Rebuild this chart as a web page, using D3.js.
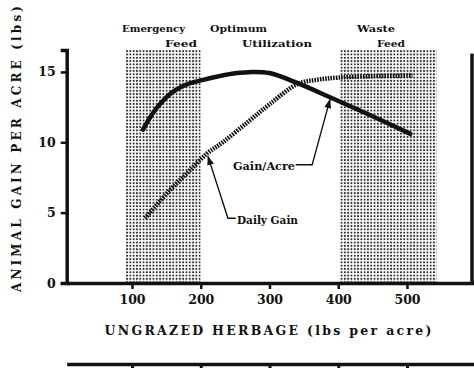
<!DOCTYPE html>
<html>
<head>
    <script src="https://d3js.org/d3.v7.min.js"></script>
    <style>
        body { margin: 0; background: white; }
        text { font-family: "DejaVu Serif", serif; font-weight: bold; fill: #111; }
    </style>
</head>
<body>
    <div id="chart"></div>
    <script>
        // values
        var herbage = [119, 155, 180, 209, 232, 270, 300, 341, 370, 400, 450, 508];
        var dailyGain = [4.6, 6.6, 7.8, 9.2, 10.0, 11.5, 12.7, 14.15, 14.45, 14.6, 14.7, 14.75];
        var herbageAcre = [116, 126, 136, 150, 160, 170, 180, 190, 200, 225, 250, 275, 300, 341, 388, 450, 505];
        var gainAcre = [10.9, 11.75, 12.45, 13.2, 13.6, 13.9, 14.12, 14.28, 14.4, 14.68, 14.9, 15.0, 14.92, 14.2, 13.2, 11.85, 10.6];
        var xTicks = [100, 200, 300, 400, 500];
        var yTicks = [0, 5, 10, 15];
        var zoneNames = [["Emergency", "Feed"], ["Optimum", "Utilization"], ["Waste", "Feed"]];
        var zoneStart = [91, 200, 402];
        var zoneEnd = [200, 402, 543];
        var zoneShaded = [true, false, true];

        var width = 474, height = 375;

        var svg = d3.select("#chart")
            .append("svg")
                .attr("width", width)
                .attr("height", height);

        var x = d3.scaleLinear().domain([5, 600]).range([66.7, 475.75]);
        var y = d3.scaleLinear().domain([0, 16.56]).range([283, 50]);

        // stipple pattern for the feed zones
        var pat = svg.append("defs").append("pattern")
            .attr("id", "dots")
            .attr("patternUnits", "userSpaceOnUse")
            .attr("width", 3.3)
            .attr("height", 3.3);
        pat.append("circle")
            .attr("cx", 1.65).attr("cy", 1.65).attr("r", 1.05)
            .attr("fill", "#2a2a2a");

        svg.select("defs").append("marker")
            .attr("id", "arrow")
            .attr("viewBox", "0 0 10 10")
            .attr("refX", 9).attr("refY", 5)
            .attr("markerWidth", 7).attr("markerHeight", 7)
            .attr("orient", "auto")
            .append("path")
                .attr("d", "M0,1.5 L10,5 L0,8.5 Z")
                .attr("fill", "#111");

        zoneStart.forEach(function(s, i) {
            if (!zoneShaded[i]) return;
            svg.append("rect")
                .attr("x", x(s))
                .attr("y", y(16.56))
                .attr("width", x(zoneEnd[i]) - x(s))
                .attr("height", y(0) - y(16.56))
                .attr("fill", "url(#dots)");
        });

        // zone headings
        var headX = [[122, 165], [210, 242], [357, 377]];
        var headW = [[63, 32], [57, 70], [38, 28]];
        zoneNames.forEach(function(n, i) {
            n.forEach(function(t, j) {
                svg.append("text")
                    .attr("x", headX[i][j])
                    .attr("y", 32 + j * 15)
                    .attr("textLength", headW[i][j])
                    .attr("lengthAdjust", "spacingAndGlyphs")
                    .style("font-size", "10px")
                    .text(t);
            });
        });

        // y axis
        var yAxis = svg.append("g")
            .attr("transform", "translate(" + x(5) + ",0)")
            .call(d3.axisLeft(y).tickValues(yTicks).tickSize(6).tickPadding(5));
        yAxis.select(".domain").attr("stroke-width", 3.5).attr("stroke", "#111");
        yAxis.selectAll(".tick line").attr("stroke-width", 2.5).attr("stroke", "#111");
        yAxis.selectAll("text")
            .style("font-family", "DejaVu Serif")
            .style("font-weight", "bold")
            .style("font-size", "12.5px")
            .attr("fill", "#111");

        // x axis
        var xAxis = svg.append("g")
            .attr("transform", "translate(0," + y(0) + ")")
            .call(d3.axisBottom(x).tickValues(xTicks).tickSize(6).tickSizeOuter(0).tickPadding(6));
        xAxis.select(".domain").attr("stroke-width", 3.5).attr("stroke", "#111");
        xAxis.selectAll(".tick line").attr("stroke-width", 2.5).attr("stroke", "#111");
        xAxis.selectAll("text")
            .style("font-family", "DejaVu Serif")
            .style("font-weight", "bold")
            .style("font-size", "12.5px")
            .attr("fill", "#111");

        // edge of the neighbouring panel on the right
        svg.append("line")
            .attr("x1", 472).attr("x2", 472)
            .attr("y1", y(16.3)).attr("y2", y(0))
            .attr("stroke", "#111").attr("stroke-width", 3.5);

        // axis of the panel below
        var lower = svg.append("g")
            .attr("transform", "translate(0,364)")
            .call(d3.axisBottom(x).tickValues(xTicks).tickSize(4).tickSizeOuter(0).tickFormat(""));
        lower.select(".domain").attr("stroke-width", 3.5).attr("stroke", "#111");
        lower.selectAll(".tick line").attr("stroke-width", 3).attr("stroke", "#111");

        // axis titles
        svg.append("text")
            .attr("transform", "translate(21,149) rotate(-90)")
            .attr("text-anchor", "middle")
            .attr("textLength", 286)
            .attr("lengthAdjust", "spacing")
            .style("font-size", "12px")
            .text("ANIMAL GAIN PER ACRE (lbs)");

        svg.append("text")
            .attr("x", 268)
            .attr("y", 335)
            .attr("text-anchor", "middle")
            .attr("textLength", 327)
            .attr("lengthAdjust", "spacing")
            .style("font-size", "12.5px")
            .text("UNGRAZED HERBAGE (lbs per acre)");

        // curves
        var line = d3.line()
            .x(function(d) { return x(d[0]); })
            .y(function(d) { return y(d[1]); })
            .curve(d3.curveCatmullRom.alpha(0.5));

        svg.append("path")
            .datum(herbageAcre.map(function(h, i) { return [h, gainAcre[i]]; }))
            .attr("d", line)
            .attr("fill", "none")
            .attr("stroke", "#111")
            .attr("stroke-width", 4.5)
            .attr("stroke-linecap", "round");

        svg.append("path")
            .datum(herbage.map(function(h, i) { return [h, dailyGain[i]]; }))
            .attr("d", line)
            .attr("fill", "none")
            .attr("stroke", "#111")
            .attr("stroke-width", 4.5)
            .attr("stroke-dasharray", "1.6,1.1");

        // annotations: leader points in data units
        var notes = [
            {label: "Gain/Acre", tx: 233, tw: 62, ty: 170,
             path: [[338, 8.4], [362, 8.4], [388, 13.05]]},
            {label: "Daily Gain", tx: 237, tw: 61, ty: 224,
             path: [[251, 4.6], [239.5, 4.6], [210.5, 9.0]]}
        ];
        notes.forEach(function(n) {
            svg.append("text")
                .attr("x", n.tx)
                .attr("y", n.ty)
                .attr("textLength", n.tw)
                .attr("lengthAdjust", "spacingAndGlyphs")
                .style("font-size", "10.5px")
                .text(n.label);
            svg.append("path")
                .datum(n.path)
                .attr("d", d3.line().x(function(d) { return x(d[0]); }).y(function(d) { return y(d[1]); }))
                .attr("fill", "none")
                .attr("stroke", "#111")
                .attr("stroke-width", 1.4)
                .attr("marker-end", "url(#arrow)");
        });
    </script>
</body>
</html>
